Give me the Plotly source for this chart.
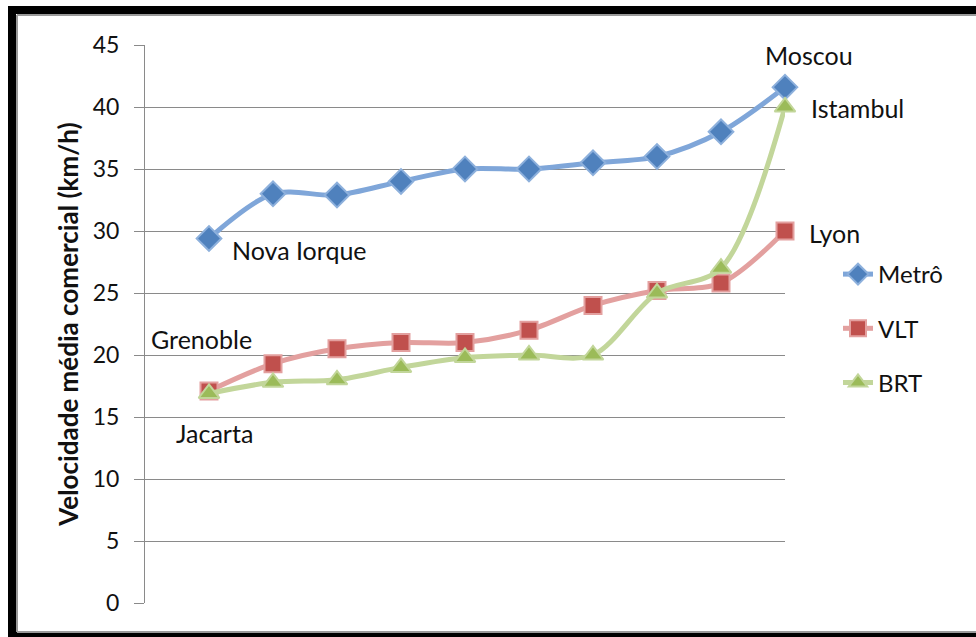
import plotly.graph_objects as go

x_pos = [1, 2, 3, 4, 5, 6, 7, 8, 9, 10]
metro = [29.4, 33.0, 32.9, 34.0, 35.0, 35.0, 35.5, 36.0, 38.0, 41.6]
vlt = [17.1, 19.3, 20.5, 21.0, 21.0, 22.0, 24.0, 25.2, 25.8, 30.0]
brt = [16.9, 17.8, 18.0, 19.0, 19.8, 20.0, 20.0, 25.0, 27.0, 40.0]
y_ticks = [0, 5, 10, 15, 20, 25, 30, 35, 40, 45]

city_labels = ["Moscou", "Istambul", "Lyon", "Nova Iorque", "Grenoble", "Jacarta"]
label_x = [10.37, 11.14, 10.77, 2.41, 0.89, 1.09]
label_y = [44.2, 39.9, 29.8, 28.5, 21.3, 13.7]

FONT = "Lato"
X_RANGE = [0, 10]
Y_RANGE = [0, 45]

fig = go.Figure()
series = [
    ("Metrô", metro, "#7FA6D9", "#4F81BD", "#8DB0DC", "diamond", 19),
    ("VLT", vlt, "#E3A09F", "#C0504D", "#E3A09F", "square", 17),
    ("BRT", brt, "#C2D69A", "#9BBB59", "#C2D69A", "triangle-up", 18),
]
for i, (name, vals, lc, mc, mlc, sym, ms) in enumerate(series):
    fig.add_trace(go.Scatter(
        x=x_pos, y=vals, name=name, mode="lines+markers",
        line=dict(color=lc, width=5, shape="spline", smoothing=0.9),
        marker=dict(symbol=sym, size=ms, color=mc, line=dict(color=mlc, width=2)),
        legendgroup=f"g{i}", cliponaxis=False,
    ))

# city labels, positioned in data units and converted to paper fractions
for t, lx, ly in zip(city_labels, label_x, label_y):
    fig.add_annotation(x=(lx - X_RANGE[0]) / (X_RANGE[1] - X_RANGE[0]),
                       y=(ly - Y_RANGE[0]) / (Y_RANGE[1] - Y_RANGE[0]),
                       xanchor="center", yanchor="middle",
                       text=t, showarrow=False, xref="paper", yref="paper",
                       font=dict(family=FONT, size=25, color="#111111"))

W, H = 976, 637
L, R, T, B = 145, 785, 45, 603
def px(p):
    return (p - L) / (R - L)
def py(q):
    return (B - q) / (B - T)

# black frame (top, left, bottom) + thin gray inner line
frame = [
    (px(8), py(10), px(976), py(10), "black", 8),
    (px(12), py(6), px(12), py(637), "black", 8),
    (px(8), py(636), px(976), py(636), "black", 8),
    (px(17), py(15), px(976), py(15), "#9a9a9a", 2),
    (px(17), py(15), px(17), py(632), "#9a9a9a", 2),
    (px(17), py(632), px(976), py(632), "#9a9a9a", 2),
]
for x0, y0, x1, y1, c, w in frame:
    fig.add_shape(type="line", xref="paper", yref="paper", x0=x0, y0=y0, x1=x1, y1=y1,
                  line=dict(color=c, width=w), layer="below")

fig.update_layout(
    width=W, height=H,
    margin=dict(l=L, r=W - R, t=T, b=H - B),
    paper_bgcolor="white", plot_bgcolor="white",
    font=dict(family=FONT, size=23, color="#111111"),
    showlegend=True,
    legend=dict(x=px(838), y=py(252), xanchor="left", yanchor="top",
                font=dict(family=FONT, size=24), tracegroupgap=20,
                traceorder="grouped", bgcolor="rgba(0,0,0,0)"),
    xaxis=dict(range=X_RANGE, showgrid=False, showticklabels=False, ticks="",
               zeroline=False, showline=False, fixedrange=True),
    yaxis=dict(range=Y_RANGE, tickvals=y_ticks, showgrid=True, gridcolor="#8a8a8a",
               gridwidth=1, ticks="outside", ticklen=10, tickcolor="#8a8a8a",
               showline=True, linecolor="#8a8a8a", linewidth=1, zeroline=False,
               tickfont=dict(family=FONT, size=23, color="#111111"),
               ticklabelstandoff=10,
               title=dict(text="<b>Velocidade média comercial (km/h)</b>",
                          font=dict(family=FONT, size=26, color="#111111"), standoff=6)),
)

fig.write_html("out.html")
